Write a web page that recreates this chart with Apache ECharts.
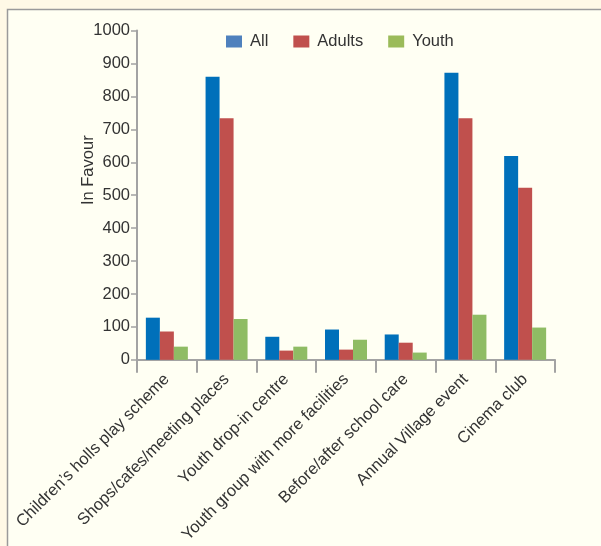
<!DOCTYPE html>
<html>
<head>
<meta charset="utf-8">
<script src="https://cdn.jsdelivr.net/npm/echarts@6/dist/echarts.min.js"></script>
<style>
html,body{margin:0;padding:0;background:#FFF9E6;}
#chart{width:601px;height:546px;}
</style>
</head>
<body>
<div id="chart"></div>
<script>
const categories = [
  "Children\u2019s holls play scheme",
  "Shops/cafes/meeting places",
  "Youth drop-in centre",
  "Youth group with more facilities",
  "Before/after school care",
  "Annual Village event",
  "Cinema club"
];
const allValues    = [128, 860, 70, 92, 77, 872, 619];
const adultsValues = [86, 734, 28, 31, 52, 734, 523];
const youthValues  = [40, 124, 40, 61, 22, 137, 98];
const yTicks = [0, 100, 200, 300, 400, 500, 600, 700, 800, 900, 1000];

const FONT = "Liberation Sans, Arial, Helvetica, sans-serif";
const axisColor = "#a3a3a3";

const chart = echarts.init(document.getElementById('chart'), null, {renderer: 'canvas'});
chart.setOption({
  backgroundColor: '#FFF9E6',
  animation: false,
  textStyle: {fontFamily: FONT},
  graphic: [
    {type: 'rect', z: -10, silent: true,
     shape: {x: 7.5, y: 9.5, width: 600, height: 540},
     style: {fill: '#FFFFF3', stroke: '#9a9a9a', lineWidth: 1.5}}
  ],
  legend: {
    left: 221, top: 28,
    itemWidth: 16, itemHeight: 12, itemGap: 25,
    textStyle: {fontSize: 16.5, color: '#333', fontFamily: FONT, padding: [0, 0, 0, 3]},
    data: [
      {name: 'All', icon: 'rect', itemStyle: {color: '#4F81BD'}},
      {name: 'Adults', icon: 'rect', itemStyle: {color: '#C0504D'}},
      {name: 'Youth', icon: 'rect', itemStyle: {color: '#9BBB59'}}
    ]
  },
  grid: {left: 137, right: 46, top: 30.6, bottom: 183.2, containLabel: false},
  xAxis: {
    type: 'category',
    data: categories,
    axisLine: {lineStyle: {color: axisColor, width: 2}},
    axisTick: {show: true, length: 13, alignWithLabel: false, lineStyle: {color: axisColor, width: 2}},
    axisLabel: {rotate: 45, interval: 0, margin: 17, fontSize: 16.5, color: '#333', fontFamily: FONT}
  },
  yAxis: {
    type: 'value',
    min: 0, max: 1000, interval: 100,
    name: 'In Favour',
    nameLocation: 'middle',
    nameGap: 40,
    nameMoveOverlap: false,
    nameRotate: 90,
    nameTextStyle: {fontSize: 16.5, color: '#333', fontFamily: FONT, padding: [0, 0, 0, 50]},
    axisLine: {show: true, lineStyle: {color: axisColor, width: 2}},
    axisTick: {show: true, length: 6, lineStyle: {color: axisColor, width: 1.5}},
    splitLine: {show: false},
    axisLabel: {margin: 7, fontSize: 16.5, color: '#333', fontFamily: FONT,
      formatter: function (v) { return yTicks.indexOf(v) >= 0 ? String(v) : ''; }}
  },
  series: [
    {name: 'All', type: 'bar', data: allValues, barWidth: 14, barGap: '0%',
     itemStyle: {color: '#0070BA'}},
    {name: 'Adults', type: 'bar', data: adultsValues, barWidth: 14, barGap: '0%',
     itemStyle: {color: '#C0504D'}},
    {name: 'Youth', type: 'bar', data: youthValues, barWidth: 14, barGap: '0%',
     itemStyle: {color: '#8FBC64'}}
  ]
});
</script>
</body>
</html>
